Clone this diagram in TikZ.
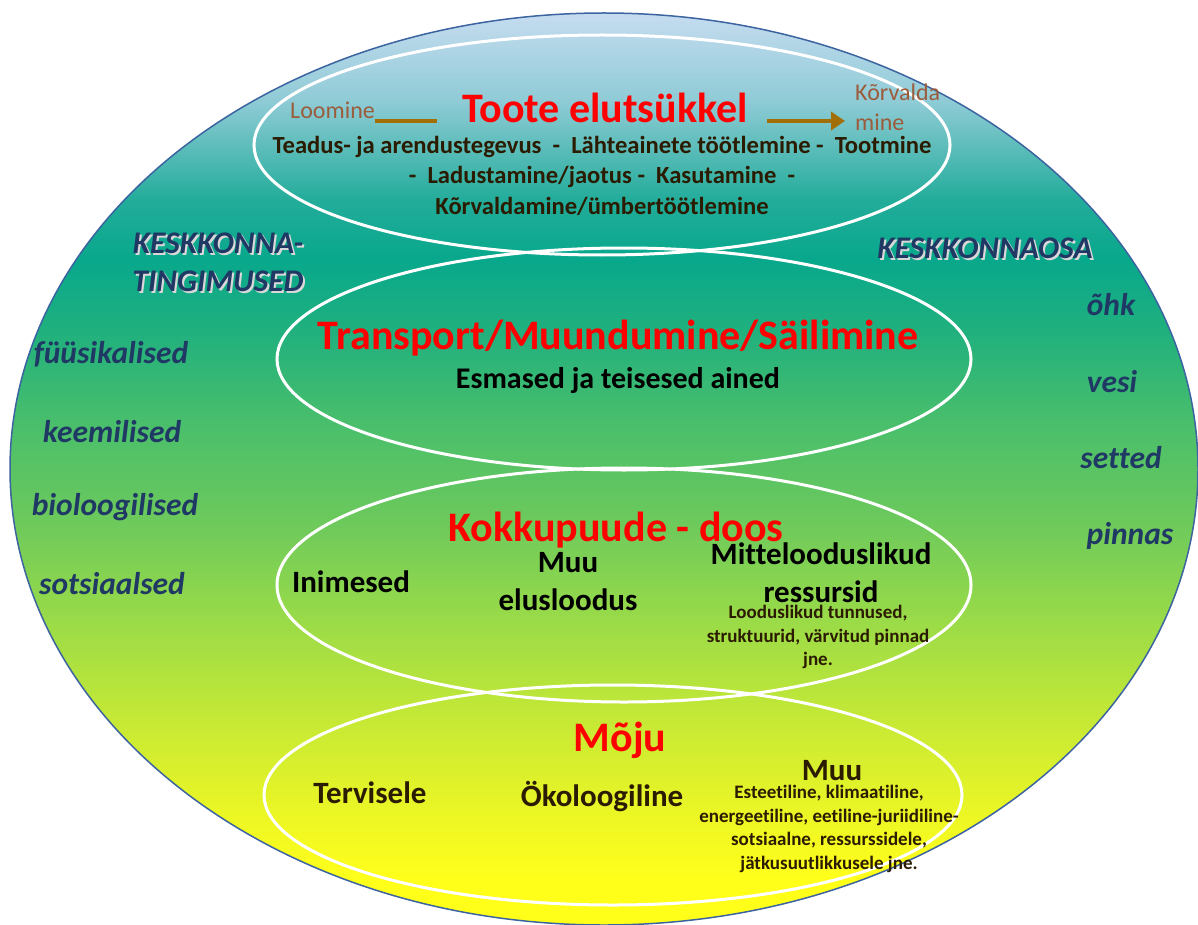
\documentclass[tikz,border=0pt]{standalone}
\usepackage{fontspec}
\setmainfont{Carlito}[Ligatures={NoCommon}]
\usetikzlibrary{shapes.geometric,arrows.meta}
\definecolor{ctop}{HTML}{C6DCF0}
\definecolor{cb}{HTML}{8FCBD6}
\definecolor{cc}{HTML}{22AC9A}
\definecolor{cd}{HTML}{08A88C}
\definecolor{ce}{HTML}{20B07E}
\definecolor{cf}{HTML}{48BE6C}
\definecolor{cg}{HTML}{6CC95C}
\definecolor{ch}{HTML}{9ADB48}
\definecolor{ci}{HTML}{C6E935}
\definecolor{cj}{HTML}{EEF724}
\definecolor{ck}{HTML}{FFFF1A}
\definecolor{bordercol}{HTML}{3C64A0}
\definecolor{titlered}{HTML}{FF0000}
\definecolor{darkbrown}{HTML}{2B1B00}
\definecolor{navy}{HTML}{1F3864}
\definecolor{shadowgray}{HTML}{D8D8D8}
\definecolor{lifebrown}{HTML}{9B5C3C}
\definecolor{arrowgold}{HTML}{A26F06}
\pgfdeclareverticalshading{bgshade}{100bp}{color(0bp)=(ck); color(25bp)=(ck); color(27.5bp)=(ck); color(30.8bp)=(cj); color(36.2bp)=(ci); color(41.7bp)=(ch); color(47.2bp)=(cg); color(52.7bp)=(cf); color(57.6bp)=(ce); color(61.5bp)=(cd); color(64.7bp)=(cc); color(70.2bp)=(cb); color(75bp)=(ctop); color(100bp)=(ctop)}
\begin{document}
\begin{tikzpicture}[x=1pt,y=-1pt,
  ring/.style={ellipse, draw=white, line width=3pt, inner sep=0pt},
  redtitle/.style={text=titlered, font=\fontsize{42}{50}\selectfont\bfseries, inner sep=0pt},
  mid/.style={font=\fontsize{31}{38}\selectfont\bfseries, inner sep=0pt, align=center},
  body/.style={font=\fontsize{24.6}{29.5}\selectfont\bfseries, text=darkbrown, inner sep=0pt, align=center},
  small/.style={font=\fontsize{19}{23.6}\selectfont\bfseries, text=darkbrown, inner sep=0pt, align=center},
  side/.style={font=\fontsize{31.5}{38}\selectfont\bfseries\itshape, text=navy, inner sep=0pt},
  shadowtxt/.style={side, text=shadowgray},
  lifetxt/.style={font=\fontsize{24}{30}\selectfont, text=lifebrown, inner sep=0pt, align=left},
  arrowline/.style={draw=arrowgold, line width=4pt}
]
\useasboundingbox (0,0) rectangle (1198,925);
% outer ellipse
\node[ellipse, minimum width=1188pt, minimum height=912pt, inner sep=0pt, draw=bordercol, line width=1.5pt, shading=bgshade] (outer) at (604,469) {};
% inner ellipses
\node[ring, minimum width=696pt, minimum height=220pt] (e1) at (602,145) {};
\node[ring, minimum width=694pt, minimum height=222pt] (e2) at (624,359) {};
\node[ring, minimum width=694pt, minimum height=234pt] (e3) at (624,585) {};
\node[ring, minimum width=698pt, minimum height=220pt] (e4) at (613,795) {};
% top ellipse content
\node[redtitle] (t1) at (605,108) {Toote elutsükkel};
\node[lifetxt, anchor=west] (loomine) at (290,110) {Loomine};
\node[lifetxt, anchor=north west] (korv) at (855,84) {Kõrvalda\\mine};
\coordinate (l1) at (375,121);
\coordinate (l2) at (437,121);
\coordinate (a1) at (767,121);
\coordinate (a2) at (845,121);
\draw[arrowline] (l1) -- (l2);
\draw[arrowline, -{Triangle[length=14pt,width=18pt]}] (a1) -- (a2);
\node[body] (b1) at (602,147) {Teadus- ja arendustegevus\ \ -\ \ Lähteainete töötlemine -\ \ Tootmine};
\node[body] (b2) at (602,177) {-\ \ Ladustamine/jaotus -\ \ Kasutamine\ \ -};
\node[body] (b3) at (602,206) {Kõrvaldamine/ümbertöötlemine};
% transport
\node[redtitle] (t2) at (618,338) {Transport/Muundumine/Säilimine};
\node[mid, font=\fontsize{30}{36}\selectfont\bfseries] (esm) at (618,381) {Esmased ja teisesed ained};
% kokkupuude
\node[redtitle] (t3) at (616,530) {Kokkupuude - doos};
\node[mid] (inim) at (351,582) {Inimesed};
\node[mid] (muu1) at (568,582) {Muu\\elusloodus};
\node[mid] (mitte) at (821,573) {Mittelooduslikud\\ressursid};
\node[small] (lood) at (818,637) {Looduslikud tunnused,\\struktuurid, värvitud pinnad\\jne.};
% moju
\node[redtitle] (t4) at (620,740) {Mõju};
\node[mid, text=darkbrown] (terv) at (370,793) {Tervisele};
\node[mid, text=darkbrown] (oko) at (602,797) {Ökoloogiline};
\node[mid, text=darkbrown] (muu2) at (832,771) {Muu};
\node[small] (este) at (829,829) {Esteetiline, klimaatiline,\\energeetiline, eetiline-juriidiline-\\sotsiaalne, ressurssidele,\\jätkusuutlikkusele jne.};
% left side
\node[shadowtxt] (kt1s) at (220,245) {KESKKONNA-};
\node[side] (kt1) at (218,243) {KESKKONNA-};
\node[shadowtxt] (kt2s) at (220,283) {TINGIMUSED};
\node[side] (kt2) at (218,281) {TINGIMUSED};
\node[side] (fyys) at (111,354) {füüsikalised};
\node[side] (keem) at (112,432) {keemilised};
\node[side] (bio) at (115,507) {bioloogilised};
\node[side] (sots) at (112,584) {sotsiaalsed};
% right side
\node[shadowtxt] (koas) at (987,250) {KESKKONNAOSA};
\node[side] (koa) at (985,248) {KESKKONNAOSA};
\node[side] (ohk) at (1111,305) {õhk};
\node[side] (vesi) at (1112,382) {vesi};
\node[side] (sett) at (1121,458) {setted};
\node[side] (pinn) at (1130,536) {pinnas};
\end{tikzpicture}
\end{document}
